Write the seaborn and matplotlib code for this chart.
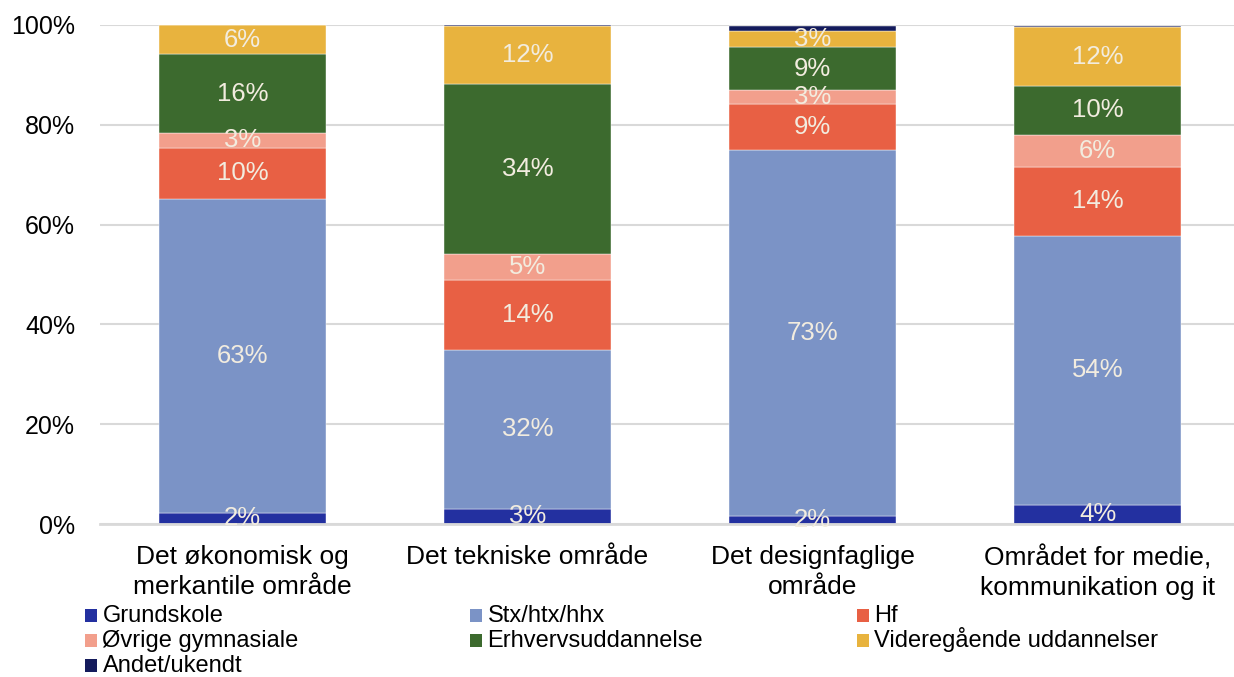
import numpy as np
import pandas as pd
import matplotlib
matplotlib.use("Agg")
import matplotlib.pyplot as plt
from matplotlib.patches import Rectangle
import seaborn as sns

categories = ["Det økonomisk og\nmerkantile område", "Det tekniske område",
              "Det designfaglige\nområde", "Området for medie,\nkommunikation og it"]
series = ["Grundskole", "Stx/htx/hhx", "Hf", "Øvrige gymnasiale",
          "Erhvervsuddannelse", "Videregående uddannelser", "Andet/ukendt"]
grundskole = [2.3, 3.1, 1.7, 3.9]
stx = [62.8, 31.7, 73.3, 53.9]
hf = [10.3, 14.1, 9.2, 13.8]
oevrige = [3.0, 5.3, 2.7, 6.4]
erhverv = [15.7, 33.9, 8.7, 9.8]
videregaaende = [5.8, 11.7, 3.2, 11.7]
andet = [0.1, 0.3, 1.0, 0.3]
yticks = [0, 20, 40, 60, 80, 100]
ytick_labels = ["0%", "20%", "40%", "60%", "80%", "100%"]

colors = ["#2330A0", "#7B93C6", "#E86044", "#F29F8C", "#3C6A2E", "#E8B33E", "#141B5C"]
label_series = [True, True, True, True, True, True, False]

sns.set_theme(style="white")
plt.rcParams["font.family"] = ["Liberation Sans", "DejaVu Sans"]
plt.rcParams["text.color"] = "black"

W, H = 1234, 677
fig = plt.figure(figsize=(W / 100, H / 100), dpi=100)
ax = fig.add_axes([100 / W, 1 - 524 / H, 1140 / W, (524 - 25) / H])

values = [grundskole, stx, hf, oevrige, erhverv, videregaaende, andet]
bottom = np.zeros(len(categories))
for name, vals, col, lab in zip(series, values, colors, label_series):
    df = pd.DataFrame({"cat": categories, "val": vals})
    sns.barplot(data=df, x="cat", y="val", order=categories, color=col,
                bottom=bottom.copy(), width=0.585, ax=ax, saturation=1,
                edgecolor="white", linewidth=0.3, errorbar=None)
    if lab:
        for i, v in enumerate(vals):
            ax.text(i, bottom[i] + v / 2, f"{round(v)}%", ha="center", va="center",
                    fontsize=18.5, color="#F2ECDF")
    bottom += np.array(vals)

ax.set_xlim(-0.5, 3.5)
ax.set_ylim(0, 100)
ax.set_yticks(yticks)
ax.set_yticklabels(ytick_labels, fontsize=18)
ax.set_xticks(range(len(categories)))
ax.set_xticklabels(categories, fontsize=19, linespacing=1.3)
ax.set_xlabel("")
ax.set_ylabel("")
ax.tick_params(axis="y", length=0, pad=18, colors="black")
ax.tick_params(axis="x", length=0, pad=15, colors="black")
ax.yaxis.grid(True, color="#D9D9D9", linewidth=1.5)
ax.set_axisbelow(True)
for s in ["left", "right", "top"]:
    ax.spines[s].set_visible(False)
ax.spines["bottom"].set_color("#D9D9D9")
ax.spines["bottom"].set_linewidth(2)

# legend drawn manually: 3 columns, row-wise order
order = [0, 1, 2, 3, 4, 5, 6]
col_x = [85, 470, 857]
row_mid = [615.5, 640.5, 665.5]
row_base = [622, 647, 672]
for n, k in enumerate(order):
    r, c = divmod(n, 3)
    x0 = col_x[c]
    fig.patches.append(Rectangle((x0 / W, 1 - (row_mid[r] + 6.5) / H), 12 / W, 13 / H,
                                 transform=fig.transFigure, facecolor=colors[k],
                                 edgecolor="none"))
    fig.text((x0 + 17.5) / W, 1 - row_base[r] / H, series[k], fontsize=17,
             ha="left", va="baseline", color="black")

fig.savefig("out.png", dpi=100)
